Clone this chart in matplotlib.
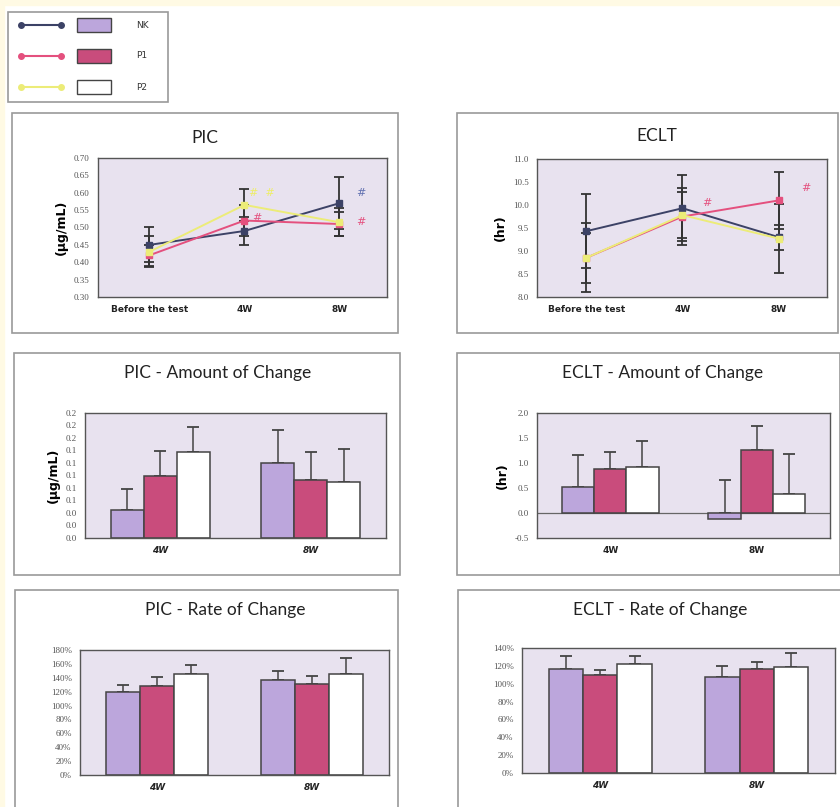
import matplotlib.pyplot as plt
from matplotlib.patches import Rectangle
import numpy as np

# ---- data ----
groups = ['NK', 'P1', 'P2']
line_cats = ['Before the test', '4W', '8W']
bar_cats = ['4W', '8W']

pic_nk = [0.45, 0.49, 0.57]
pic_p1 = [0.42, 0.52, 0.51]
pic_p2 = [0.43, 0.565, 0.515]
pic_nk_err = [0.05, 0.04, 0.075]
pic_p1_err = [0.03, 0.045, 0.035]
pic_p2_err = [0.045, 0.045, 0.04]

eclt_nk = [9.43, 9.93, 9.30]
eclt_p1 = [8.85, 9.75, 10.10]
eclt_p2 = [8.85, 9.78, 9.27]
eclt_nk_err = [0.80, 0.72, 0.27]
eclt_p1_err = [0.55, 0.63, 0.62]
eclt_p2_err = [0.75, 0.50, 0.75]

pic_amt = {'NK': [0.045, 0.120], 'P1': [0.100, 0.093], 'P2': [0.138, 0.089]}
pic_amt_err = {'NK': [0.033, 0.053], 'P1': [0.039, 0.044], 'P2': [0.039, 0.054]}

eclt_amt = {'NK': [0.52, -0.11], 'P1': [0.89, 1.27], 'P2': [0.92, 0.39]}
eclt_amt_err = {'NK': [0.65, 0.78], 'P1': [0.33, 0.48], 'P2': [0.53, 0.79]}

pic_rate = {'NK': [119, 137], 'P1': [128, 131], 'P2': [145, 145]}
pic_rate_err = {'NK': [10, 13], 'P1': [13, 12], 'P2': [13, 23]}

eclt_rate = {'NK': [117, 108], 'P1': [110, 117], 'P2': [122, 119]}
eclt_rate_err = {'NK': [14, 12], 'P1': [5, 7], 'P2': [9, 15]}

line_colors = {'NK': '#3c4266', 'P1': '#e4507e', 'P2': '#ecec78'}
bar_colors = {'NK': '#bca6dc', 'P1': '#c94c7c', 'P2': '#ffffff'}
axbg = '#e8e2ef'

W, H = 840, 807
fig = plt.figure(figsize=(W / 100, H / 100), dpi=100)
fig.patch.set_facecolor('white')


def fx(x):
    return x / W


def fy(y):
    return 1 - y / H


def add_ax(x0, y0, x1, y1):
    return fig.add_axes([fx(x0), fy(y1), fx(x1 - x0), (y1 - y0) / H])


def box(x0, y0, x1, y1):
    fig.patches.append(Rectangle((fx(x0), fy(y1)), fx(x1 - x0), (y1 - y0) / H,
                                 transform=fig.transFigure, fill=False,
                                 edgecolor='#9a9a9a', lw=1.2, zorder=0))


# yellowish strips at the edges
fig.patches.append(Rectangle((0, fy(5)), 1, 5 / H, transform=fig.transFigure,
                             color='#fffae4', zorder=-1))
fig.patches.append(Rectangle((0, 0), fx(4), 1, transform=fig.transFigure,
                             color='#fffae4', zorder=-1))

title_font = dict(family=['Lato', 'DejaVu Sans'], fontsize=12.5, color='#222222')
tick_font = dict(family=['Liberation Serif', 'DejaVu Serif'], fontsize=6.5, color='#555555')


def style(ax):
    ax.set_facecolor(axbg)
    for s in ax.spines.values():
        s.set_color('#555555')
        s.set_linewidth(1.0)
    ax.tick_params(length=0, pad=6)
    for t in ax.get_yticklabels():
        t.set(**tick_font)
    for t in ax.get_xticklabels():
        t.set(family=['DejaVu Sans'], fontsize=6.5, fontweight='bold', color='#222222')


# ---- legend ----
box(8, 12, 168, 102)
lax = add_ax(8, 12, 168, 102)
lax.set_xlim(8, 168)
lax.set_ylim(102, 12)
lax.axis('off')
for i, g in enumerate(groups):
    yy = 25 + i * 31
    lax.plot([21, 61], [yy, yy], color=line_colors[g], lw=1.5, marker='o', ms=4)
    lax.add_patch(Rectangle((77, yy - 7), 34, 14, facecolor=bar_colors[g],
                            edgecolor='#444444', lw=1))
    lax.text(136, yy, g, fontsize=6.5, va='center', color='#333333')


# ---- line charts ----
def line_chart(ax, series, errs, ylim, yticks, fmt):
    x = np.arange(len(line_cats))
    for g, vals, e in zip(groups, series, errs):
        ax.errorbar(x, vals, yerr=e, fmt='none', ecolor='#333333', elinewidth=1.3,
                    capsize=3.5, capthick=1.3, zorder=2)
    for g, vals in zip(groups, series):
        ax.plot(x, vals, color=line_colors[g], lw=1.4, marker='s', ms=4.5,
                markeredgecolor=line_colors[g], zorder=3)
    ax.set_ylim(*ylim)
    ax.set_yticks(yticks)
    ax.set_yticklabels([fmt.format(v) for v in yticks])
    ax.set_xticks(x)
    ax.set_xticklabels(line_cats)
    style(ax)


box(12, 113, 398, 333)
ax1 = add_ax(98, 158, 387, 297)
line_chart(ax1, [pic_nk, pic_p1, pic_p2], [pic_nk_err, pic_p1_err, pic_p2_err],
           (0.30, 0.70), np.arange(0.30, 0.701, 0.05), '{:.2f}')
ax1.set_xlim(-0.54, 2.5)
ax1.text(1.18, pic_p2[1] + 0.035, '#  #', color='#eeee66', fontsize=8, ha='center', va='center')
ax1.text(1.13, pic_p1[1] + 0.006, '#', color='#e4507e', fontsize=8, ha='center', va='center')
ax1.text(2.22, pic_nk[2] + 0.03, '#', color='#6070b0', fontsize=8, ha='center', va='center')
ax1.text(2.22, pic_p1[2] + 0.005, '#', color='#e4507e', fontsize=8, ha='center', va='center')
ax1.set_ylabel('(μg/mL)', fontsize=9, fontweight='bold', labelpad=4)
fig.text(fx(205), fy(138), 'PIC', ha='center', va='center', **title_font)

box(457, 113, 838, 333)
ax2 = add_ax(537, 159, 827, 297)
line_chart(ax2, [eclt_nk, eclt_p1, eclt_p2], [eclt_nk_err, eclt_p1_err, eclt_p2_err],
           (8.0, 11.0), np.arange(8.0, 11.01, 0.5), '{:.1f}')
ax2.set_xlim(-0.51, 2.5)
ax2.text(1.25, eclt_p1[1] + 0.3, '#', color='#e4507e', fontsize=8, ha='center', va='center')
ax2.text(2.28, eclt_p1[2] + 0.27, '#', color='#e4507e', fontsize=8, ha='center', va='center')
ax2.set_ylabel('(hr)', fontsize=9, fontweight='bold', labelpad=4)
fig.text(fx(657), fy(136), 'ECLT', ha='center', va='center', **title_font)


# ---- bar charts ----
def bar_chart(ax, vals, errs, ylim, yticks, labels, width=0.22, italic=True):
    x = np.arange(len(bar_cats))
    for i, g in enumerate(groups):
        xs = x + (i - 1) * width
        v = np.array(vals[g])
        e = np.array(errs[g])
        ax.bar(xs, v, width, color=bar_colors[g], edgecolor='#444444', lw=1.1, zorder=2)
        top = np.where(v >= 0, v, 0)
        ax.errorbar(xs, top, yerr=[np.zeros_like(e), e + np.where(v < 0, v, 0)],
                    fmt='none', ecolor='#444444', elinewidth=1.1, capsize=4,
                    capthick=1.3, zorder=1)
    ax.set_xlim(-0.5, 1.5)
    ax.set_ylim(*ylim)
    ax.set_yticks(yticks)
    ax.set_yticklabels(labels)
    ax.set_xticks(x)
    ax.set_xticklabels(bar_cats)
    style(ax)
    if italic:
        for t in ax.get_xticklabels():
            t.set_fontstyle('italic')


box(14, 353, 400, 575)
ax3 = add_ax(85, 413, 386, 538)
t3 = np.arange(0, 0.2001, 0.02)
bar_chart(ax3, pic_amt, pic_amt_err, (0, 0.2), t3, ['{:.1f}'.format(v) for v in t3])
ax3.set_ylabel('(μg/mL)', fontsize=9, fontweight='bold', labelpad=4)
fig.text(fx(218), fy(373), 'PIC - Amount of Change', ha='center', va='center', **title_font)

box(457, 353, 840, 575)
ax4 = add_ax(537, 413, 830, 538)
t4 = np.arange(-0.5, 2.01, 0.5)
bar_chart(ax4, eclt_amt, eclt_amt_err, (-0.5, 2.0), t4, ['{:.1f}'.format(v) for v in t4],
          italic=False)
ax4.axhline(0, color='#666666', lw=0.9, zorder=1)
ax4.set_ylabel('(hr)', fontsize=9, fontweight='bold', labelpad=4)
fig.text(fx(663), fy(373), 'ECLT - Amount of Change', ha='center', va='center', **title_font)

box(15, 590, 398, 812)
ax5 = add_ax(80, 650, 389, 775)
t5 = np.arange(0, 181, 20)
bar_chart(ax5, pic_rate, pic_rate_err, (0, 180), t5, ['{:d}%'.format(int(v)) for v in t5])
fig.text(fx(225), fy(610), 'PIC - Rate of Change', ha='center', va='center', **title_font)

box(458, 590, 842, 812)
ax6 = add_ax(522, 648, 835, 773)
t6 = np.arange(0, 141, 20)
bar_chart(ax6, eclt_rate, eclt_rate_err, (0, 140), t6, ['{:d}%'.format(int(v)) for v in t6])
fig.text(fx(660), fy(610), 'ECLT - Rate of Change', ha='center', va='center', **title_font)

fig.savefig('out.png', dpi=100)
